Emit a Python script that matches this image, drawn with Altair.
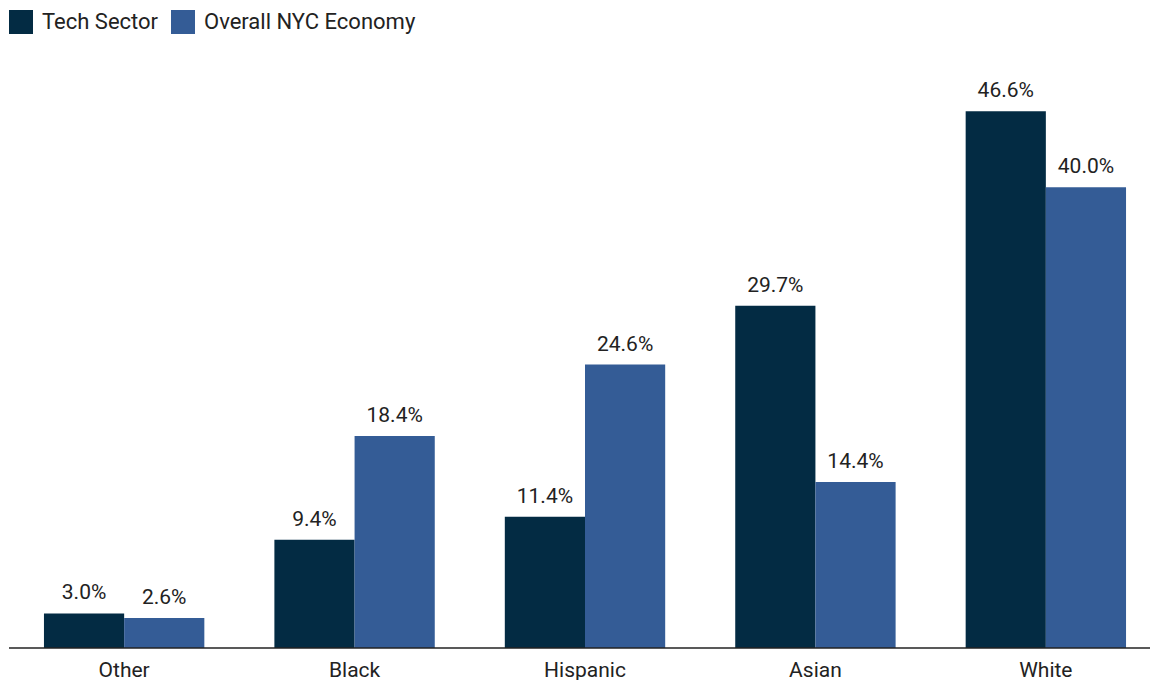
import altair as alt
import pandas as pd

categories = ["Other", "Black", "Hispanic", "Asian", "White"]
series = ["Tech Sector", "Overall NYC Economy"]
tech_values = [3.0, 9.4, 11.4, 29.7, 46.6]
nyc_values = [2.6, 18.4, 24.6, 14.4, 40.0]
colors = ["#032B43", "#345C96"]

rows = []
for c, t, n in zip(categories, tech_values, nyc_values):
    rows.append({"cat": c, "series": series[0], "value": t, "label": f"{t:.1f}%"})
    rows.append({"cat": c, "series": series[1], "value": n, "label": f"{n:.1f}%"})
df = pd.DataFrame(rows)

W = 1130
x = alt.X("cat:N", sort=categories, title=None,
          scale=alt.Scale(paddingInner=0.304, paddingOuter=0.104),
          axis=alt.Axis(labelAngle=0, labelFontSize=21, labelFont="Roboto",
                        labelColor="#222222", labelPadding=11, ticks=False,
                        domain=False, grid=False))
xo = alt.XOffset("series:N", sort=series)
y = alt.Y("value:Q", scale=alt.Scale(domain=[0, 50], nice=False), axis=None)

bars = alt.Chart(df).mark_bar(stroke=None).encode(
    x=x, xOffset=xo, y=y,
    color=alt.Color("series:N", sort=series,
                    scale=alt.Scale(domain=series, range=colors),
                    legend=alt.Legend(title=None, orient="none", direction="horizontal",
                                      legendX=-11, legendY=-62,
                                      symbolType="square", symbolSize=576,
                                      symbolStrokeWidth=0, symbolOpacity=1,
                                      labelFont="Roboto", labelFontSize=22,
                                      labelColor="#222222", labelOffset=9,
                                      labelLimit=400,
                                      columnPadding=12, symbolOffset=0)),
)

text = alt.Chart(df).mark_text(dy=-14, baseline="alphabetic", fontSize=21,
                               font="Roboto", color="#222222").encode(
    x=x, xOffset=xo, y=y, text="label:N")

baseline = alt.Chart(pd.DataFrame({"v": [0]})).mark_rule(
    color="#222222", strokeWidth=1.5).encode(
    y=alt.Y("v:Q", scale=alt.Scale(domain=[0, 50], nice=False), axis=None),
    x=alt.value(-11), x2=alt.value(W))

chart = (bars + baseline + text).properties(
    width=W, height=576,
    autosize=alt.AutoSizeParams(type="none"),
    padding={"left": 12, "top": 64, "right": 0, "bottom": 32},
).configure_view(stroke=None)

chart.save("out.html", embed_options={"renderer": "svg", "actions": False})
